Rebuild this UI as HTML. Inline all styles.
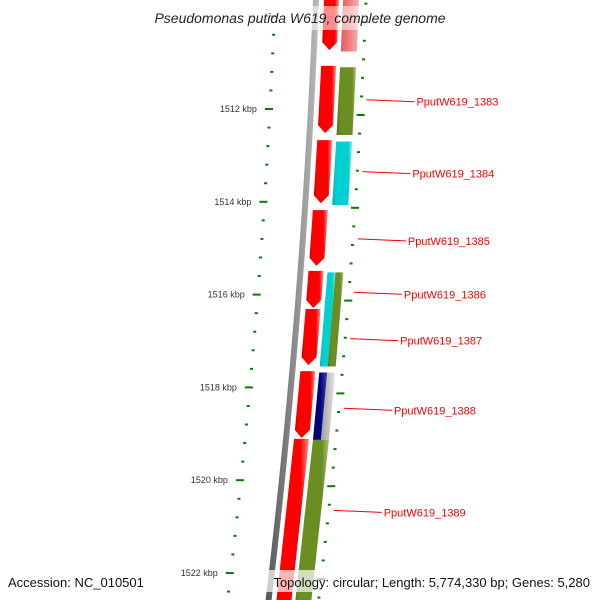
<!DOCTYPE html>
<html><head><meta charset="utf-8"><style>
html,body{margin:0;padding:0;background:#fff;width:600px;height:600px;overflow:hidden;}
svg{display:block;font-family:"Liberation Sans","DejaVu Sans",sans-serif;overflow:hidden;}
</style></head><body>
<svg id="map" width="600" height="600" viewBox="0 0 600 600" xmlns="http://www.w3.org/2000/svg">
<defs>
<clipPath id="frame"><rect x="0" y="0" width="600" height="600"/></clipPath>
<linearGradient id="gr" x1="0" x2="1"><stop offset="0" stop-color="#c00000"/><stop offset="0.15" stop-color="#ff0000"/><stop offset="0.75" stop-color="#ff0000"/><stop offset="1" stop-color="#ff9090"/></linearGradient>
<linearGradient id="go" x1="0" x2="1"><stop offset="0" stop-color="#55701c"/><stop offset="0.2" stop-color="#6b8e23"/><stop offset="0.8" stop-color="#6b8e23"/><stop offset="1" stop-color="#b0c080"/></linearGradient>
<linearGradient id="gc" x1="0" x2="1"><stop offset="0" stop-color="#00b0b0"/><stop offset="0.2" stop-color="#00d0d0"/><stop offset="0.8" stop-color="#00d0d0"/><stop offset="1" stop-color="#80ecec"/></linearGradient>
<linearGradient id="gn" x1="0" x2="1"><stop offset="0" stop-color="#000070"/><stop offset="0.5" stop-color="#000080"/><stop offset="1" stop-color="#4040a0"/></linearGradient>
<linearGradient id="gg" x1="0" x2="1"><stop offset="0" stop-color="#a0a0a0"/><stop offset="0.5" stop-color="#c0c0c0"/><stop offset="1" stop-color="#e8e8e8"/></linearGradient>
<linearGradient id="gp" x1="0" x2="1"><stop offset="0" stop-color="#e06060"/><stop offset="0.5" stop-color="#f08080"/><stop offset="1" stop-color="#f8b0b0"/></linearGradient>
<linearGradient id="gb" x1="0" x2="1"><stop offset="0" stop-color="#555"/><stop offset="0.5" stop-color="#888"/><stop offset="1" stop-color="#bbb"/></linearGradient>
</defs>
<g id="layer" clip-path="url(#frame)"></g>
</svg>
<script>
// data (kbp positions)
const geneStarts = [1509.5, 1511.07, 1512.67, 1514.18, 1515.49, 1516.31, 1517.65, 1519.11];
const geneEnds   = [1510.73, 1512.52, 1514.03, 1515.38, 1516.29, 1517.52, 1519.09, 1523.0];
const track2Starts = [1509.5, 1511.1, 1512.7, 1515.52, 1515.52, 1517.68, 1517.68, 1519.13];
const track2Ends   = [1510.76, 1512.56, 1514.07, 1517.55, 1517.55, 1519.13, 1519.13, 1523.0];
const track2Colors = ["gp","go","gc","gc","go","gn","gg","go"];
const track2Lane   = [0,0,0,1,2,1,2,0];
const tickLabels = ["1512 kbp","1514 kbp","1516 kbp","1518 kbp","1520 kbp","1522 kbp"];
const tickKbp = [1512,1514,1516,1518,1520,1522];
const geneLabels = ["PputW619_1383","PputW619_1384","PputW619_1385","PputW619_1386","PputW619_1387","PputW619_1388","PputW619_1389"];
const geneLabelKbp = [1511.8, 1513.35, 1514.8, 1515.95, 1516.95, 1518.45, 1520.65];

const NS="http://www.w3.org/2000/svg";
const L=document.getElementById('layer');
function yOf(k){return 109+(k-1512)*46.4;}
function bx(y){return 316-0.079*y+(6/90000)*y*(600-y);}
function mk(tag,attrs,parent){const e=document.createElementNS(NS,tag);for(const k in attrs)e.setAttribute(k,attrs[k]);(parent||L).appendChild(e);return e;}

// backbone (polyline along curve)
let left=[],right=[];
for(let y=0;y<=600;y+=20){left.push(`${bx(y)-3},${y}`);right.unshift(`${bx(y)+3},${y}`);}
const bb=mk('polygon',{points:left.concat(right).join(' '),fill:'url(#gb)'});



// forward genes
geneStarts.forEach((s,i)=>{
  const y1=Math.max(-2,yOf(s)), y2=yOf(geneEnds[i]);
  const o1=8,o2=23, tip=8;
  const a=bx(y1),b=bx(y2-tip),c=bx(y2);
  const pts=`${a+o1},${y1} ${a+o2},${y1} ${b+o2},${y2-tip} ${c+(o1+o2)/2},${y2} ${b+o1},${y2-tip}`;
  const p=mk('polygon',{points:pts,fill:'url(#gr)'});
  
  
});
// second track
track2Starts.forEach((s,i)=>{
  const y1=Math.max(-2,yOf(s)), y2=yOf(track2Ends[i]);
  let o1=27,o2=43;
  if(track2Lane[i]===1){o1=27;o2=35;} else if(track2Lane[i]===2){o1=35;o2=43;}
  const a=bx(y1),c=bx(y2);
  const p=mk('polygon',{points:`${a+o1},${y1} ${a+o2},${y1} ${c+o2},${y2} ${c+o1},${y2}`,fill:'url(#'+track2Colors[i]+')'});
  
  
});

// ticks: every 0.4 kbp, major every 2 kbp
for(let n=0;n<=35;n++){
  const kk=1509.2+n*0.4;
  const major=(n-2)%5===0;
  const y=yOf(kk);
  const x=bx(y);
  const yr=y+6;
  const xr=bx(yr);
  if(y>=0&&y<=598){
    const t1=mk('rect',{x:major?x-46:x-42.5,y:y-1,width:major?8:3,height:2,fill:'#008000'});
    
    
  }
  if(yr>=0&&yr<=598){
    const t2=mk('rect',{x:major?xr+46:xr+48.5,y:yr-1,width:major?8:3,height:2,fill:'#008000'});
    
    
  }
}
tickKbp.forEach((k,i)=>{
  const y=yOf(k);
  const t=mk('text',{x:bx(y)-54,y:y+3,'font-size':9,fill:'#333','text-anchor':'end'});
  t.textContent=tickLabels[i];
  
  
});
geneLabels.forEach((lab,i)=>{
  const y=yOf(geneLabelKbp[i]);
  const x0=bx(y)+55;
  const ln=mk('line',{x1:x0,y1:y,x2:x0+48,y2:y+2,stroke:'#ff0000','stroke-width':1});
  
  
  const t=mk('text',{x:x0+50,y:y+6,'font-size':11,fill:'#ff0000'});
  t.textContent=lab;
  
  
});

// title and footer
const tb=mk('rect',{x:140,y:6,width:325,height:24,fill:'#fff','fill-opacity':0.55});


const title=mk('text',{x:300,y:23,'font-size':14,'font-style':'italic',fill:'#222','text-anchor':'middle'});
title.textContent='Pseudomonas putida W619, complete genome';


const fb=mk('rect',{x:258,y:570,width:336,height:22,fill:'#fff','fill-opacity':0.7});


const acc=mk('text',{x:8,y:587,'font-size':13,fill:'#111'});
acc.textContent='Accession: NC_010501';


const topo=mk('text',{x:590,y:587,'font-size':13,fill:'#111','text-anchor':'end'});
topo.textContent='Topology: circular; Length: 5,774,330 bp; Genes: 5,280';


</script>
</body></html>
